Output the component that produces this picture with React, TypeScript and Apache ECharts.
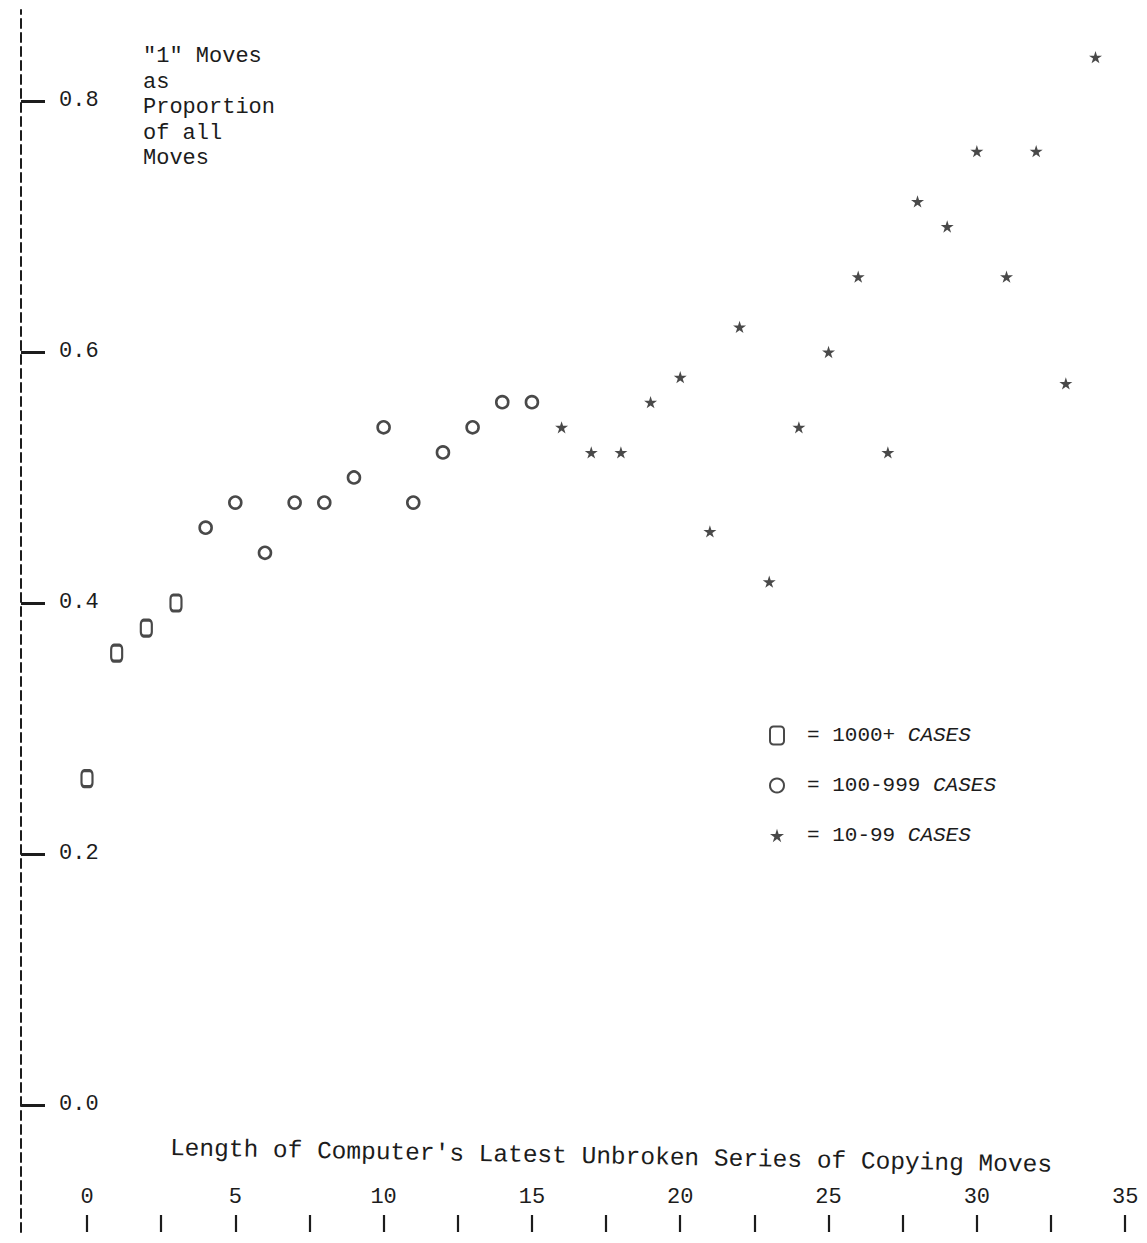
import React, { useEffect, useRef } from "react";
import * as echarts from "echarts";

const squareX = [0, 1, 2, 3];
const squareY = [0.26, 0.36, 0.38, 0.4];
const circleX = [4, 5, 6, 7, 8, 9, 10, 11, 12, 13, 14, 15];
const circleY = [0.46, 0.48, 0.44, 0.48, 0.48, 0.5, 0.54, 0.48, 0.52, 0.54, 0.56, 0.56];
const starX = [16, 17, 18, 19, 20, 21, 22, 23, 24, 25, 26, 27, 28, 29, 30, 31, 32, 33, 34];
const starY = [0.54, 0.52, 0.52, 0.56, 0.58, 0.457, 0.62, 0.417, 0.54, 0.6, 0.66, 0.52, 0.72, 0.7, 0.76, 0.66, 0.76, 0.575, 0.835];
const yTicks = [0, 0.2, 0.4, 0.6, 0.8];
const xTicks = [0, 2.5, 5, 7.5, 10, 12.5, 15, 17.5, 20, 22.5, 25, 27.5, 30, 32.5, 35];
const xLabels = [0, 5, 10, 15, 20, 25, 30, 35];
const seriesNames = ["1000+", "100-999", "10-99"];
const yTitle = ['"1" Moves', "as", "Proportion", "of all", "Moves"];
const xTitle = "Length of Computer's Latest Unbroken Series of Copying Moves";

const FONT = "'Liberation Mono', 'DejaVu Sans Mono', monospace";
const INK = "#1c1c1c";
const STAR = "path://M50,0 L61,35 L98,35 L68,57 L79,91 L50,70 L21,91 L32,57 L2,35 L39,35 Z";

export default function App() {
  const ref = useRef<HTMLDivElement>(null);
  useEffect(() => {
    if (!ref.current) return;
    const chart = echarts.init(ref.current, null, { renderer: "svg" });
    const zip = (xs: number[], ys: number[]) => xs.map((x, i) => [x, ys[i]]);
    chart.setOption({
      animation: false,
      backgroundColor: "#ffffff",
      grid: { left: 21, right: 7, top: 10, bottom: 11, containLabel: false },
      xAxis: {
        type: "value",
        min: -2.225,
        max: 35.5,
        splitLine: { show: false },
        axisLine: { show: false, onZero: false },
        axisTick: {
          show: true,
          inside: true,
          length: 17,
          lineStyle: { color: INK, width: 2.2 },
          customValues: xTicks,
        },
        axisLabel: {
          show: true,
          inside: true,
          margin: 24,
          color: INK,
          fontFamily: FONT,
          fontSize: 22,
          customValues: xLabels,
        },
      },
      yAxis: {
        type: "value",
        min: -0.1012,
        max: 0.8725,
        splitLine: { show: false },
        axisLine: {
          show: true,
          onZero: false,
          lineStyle: { color: INK, width: 2, type: [9, 5] },
        },
        axisTick: {
          show: true,
          inside: true,
          length: 24,
          lineStyle: { color: INK, width: 3 },
          customValues: yTicks,
        },
        axisLabel: {
          show: true,
          inside: true,
          margin: 38,
          color: INK,
          fontFamily: FONT,
          fontSize: 22,
          customValues: yTicks,
          formatter: (v: number) => v.toFixed(1),
        },
      },
      legend: {
        orient: "vertical",
        left: 764,
        top: 720,
        itemGap: 29,
        itemWidth: 14,
        itemHeight: 18,
        data: seriesNames,
        formatter: (name: string) => `{n|= ${name}} {c|CASES}`,
        textStyle: {
          color: INK,
          fontFamily: FONT,
          fontSize: 21,
          padding: [0, 0, 0, 18],
          rich: {
            n: { fontFamily: FONT, fontSize: 21, color: INK },
            c: { fontFamily: FONT, fontSize: 21, fontStyle: "italic", color: INK },
          },
        },
      },
      graphic: [
        {
          type: "text",
          left: 143,
          top: 44,
          style: {
            text: yTitle.join("\n"),
            fontFamily: FONT,
            fontSize: 22,
            lineHeight: 25.5,
            fill: INK,
          },
        },
        {
          type: "text",
          x: 611,
          y: 1157,
          rotation: -0.019,
          style: {
            text: xTitle,
            fontFamily: FONT,
            fontSize: 24.5,
            fill: INK,
            align: "center",
            verticalAlign: "middle",
          },
        },
      ],
      series: [
        {
          name: seriesNames[0],
          type: "scatter",
          symbol: "roundRect",
          symbolSize: [11, 16],
          itemStyle: { color: "#ffffff", borderColor: INK, borderWidth: 2.6 },
          data: zip(squareX, squareY),
        },
        {
          name: seriesNames[1],
          type: "scatter",
          symbol: "circle",
          symbolSize: 12,
          itemStyle: { color: "#ffffff", borderColor: INK, borderWidth: 2.6 },
          data: zip(circleX, circleY),
        },
        {
          name: seriesNames[2],
          type: "scatter",
          symbol: STAR,
          symbolKeepAspect: true,
          symbolSize: 13,
          itemStyle: { color: INK },
          data: zip(starX, starY),
        },
      ],
    });
    return () => chart.dispose();
  }, []);
  return (
    <div
      ref={ref}
      style={{ position: "absolute", left: 0, top: 0, width: 1147, height: 1243 }}
    />
  );
}
